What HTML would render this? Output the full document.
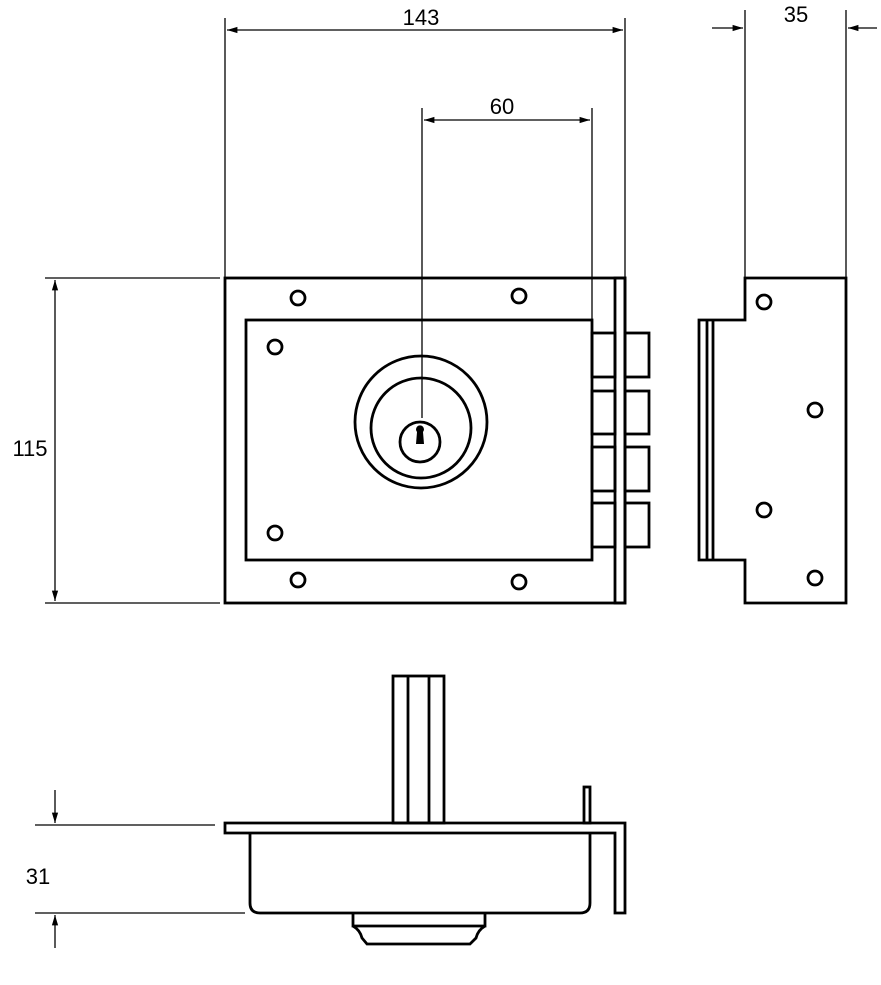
<!DOCTYPE html>
<html><head><meta charset="utf-8"><style>body{margin:0;background:#fff}svg{display:block}</style></head><body>
<svg width="881" height="985" viewBox="0 0 881 985" xmlns="http://www.w3.org/2000/svg" font-family="Liberation Sans, sans-serif">
<defs><marker id="a" viewBox="0 0 10 10" refX="10" refY="5" markerWidth="8" markerHeight="8" orient="auto-start-reverse"><path d="M0,2 L10,5 L0,8 z" fill="#000"/></marker></defs>
<g stroke="#000" fill="none" stroke-width="1.3">
<line x1="225" y1="18" x2="225" y2="278"/><line x1="625" y1="18" x2="625" y2="278"/>
<line x1="227" y1="30" x2="623" y2="30" marker-start="url(#a)" marker-end="url(#a)"/>
<line x1="422" y1="108" x2="422" y2="418"/><line x1="592" y1="108" x2="592" y2="320"/>
<line x1="424" y1="120" x2="590" y2="120" marker-start="url(#a)" marker-end="url(#a)"/>
<line x1="745" y1="10" x2="745" y2="278"/><line x1="846" y1="10" x2="846" y2="278"/>
<line x1="712" y1="28" x2="743" y2="28" marker-end="url(#a)"/><line x1="877" y1="28" x2="848" y2="28" marker-end="url(#a)"/>
<line x1="45" y1="278" x2="220" y2="278"/><line x1="45" y1="603" x2="220" y2="603"/>
<line x1="55" y1="280" x2="55" y2="601" marker-start="url(#a)" marker-end="url(#a)"/>
<line x1="35" y1="825" x2="215" y2="825"/><line x1="35" y1="913" x2="245" y2="913"/>
<line x1="55" y1="790" x2="55" y2="823" marker-end="url(#a)"/><line x1="55" y1="948" x2="55" y2="915" marker-end="url(#a)"/>
</g>
<g stroke="#000" fill="none" stroke-width="2.8">
<rect x="225" y="278" width="400" height="325"/>
<rect x="615" y="278" width="10" height="325"/>
<rect x="246" y="320" width="346" height="240"/>
<rect x="592" y="333" width="23" height="44"/><rect x="625" y="333" width="24" height="44"/>
<rect x="592" y="391" width="23" height="43"/><rect x="625" y="391" width="24" height="43"/>
<rect x="592" y="447" width="23" height="44"/><rect x="625" y="447" width="24" height="44"/>
<rect x="592" y="503" width="23" height="44"/><rect x="625" y="503" width="24" height="44"/>
<circle cx="421" cy="422" r="66"/><circle cx="421" cy="428" r="50"/><circle cx="420" cy="442" r="20"/>
<circle cx="298" cy="298" r="7"/><circle cx="519" cy="296" r="7"/><circle cx="275" cy="347" r="7"/><circle cx="275" cy="533" r="7"/><circle cx="298" cy="580" r="7"/><circle cx="519" cy="582" r="7"/>
<path d="M745,278 H846 V603 H745 V560 H699 V320 H745 Z"/>
<line x1="707" y1="320" x2="707" y2="560"/><line x1="713" y1="320" x2="713" y2="560"/>
<circle cx="764" cy="302" r="7"/><circle cx="815" cy="410" r="7"/><circle cx="764" cy="510" r="7"/><circle cx="815" cy="578" r="7"/>
<rect x="393" y="676" width="51" height="147"/><line x1="408" y1="676" x2="408" y2="823"/><line x1="429" y1="676" x2="429" y2="823"/>
<rect x="584" y="787" width="6" height="36"/>
<path d="M225,823 H625 V913 H615 V833 H225 Z"/>
<path d="M250,833 V903 Q250,913 260,913 H580 Q590,913 590,903 V833"/>
<path d="M353,913 V926 H485 V913 M353,926 Q360,930 362,938 L367,944 H470 L476,938 Q478,930 485,926"/>
</g>
<path d="M417,432 a4,4 0 1,1 6,0 l1,12 h-8 z" fill="#000"/>
<g font-size="22" fill="#000" text-anchor="middle">
<text x="421" y="25">143</text><text x="502" y="114">60</text><text x="796" y="22">35</text>
<text x="30" y="456">115</text><text x="38" y="884">31</text>
</g>
</svg>
</body></html>
